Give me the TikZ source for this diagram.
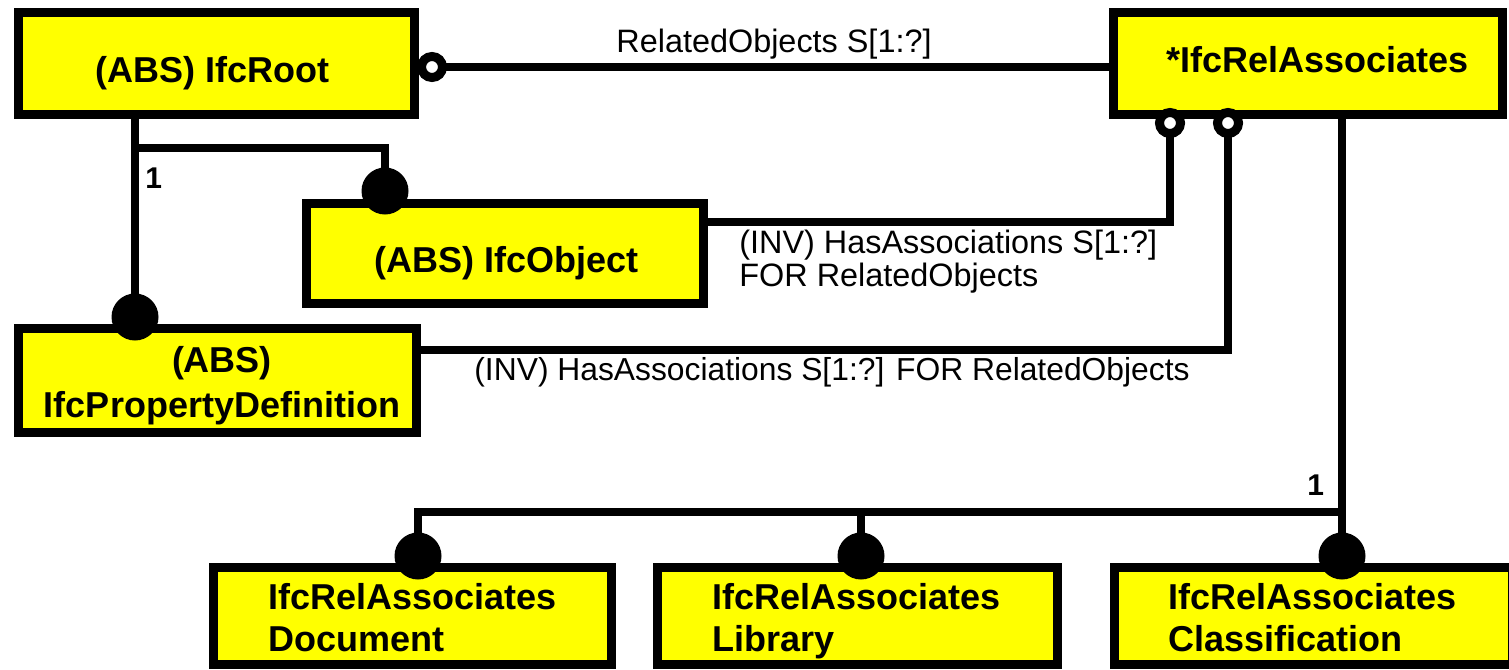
\documentclass[tikz,border=0pt]{standalone}
\usepackage{fontspec}
\setmainfont{Liberation Sans}
\definecolor{boxyellow}{RGB}{255,255,0}
\begin{document}
\begin{tikzpicture}[x=0.5pt,y=-0.5pt,
  box/.style={draw=black, line width=4.5pt, fill=boxyellow, inner sep=0pt},
  title/.style={font=\fontsize{18pt}{21pt}\selectfont\bfseries, inner sep=0pt},
  lbl/.style={font=\fontsize{16.2pt}{16.5pt}\selectfont, inner sep=0pt},
  card/.style={font=\fontsize{15pt}{15pt}\selectfont\bfseries, inner sep=0pt},
  conn/.style={line width=4.25pt},
  ring/.style={draw=black, line width=4.5pt, fill=white},
  blob/.style={fill=black}]
\useasboundingbox (0,0) rectangle (1509,669);

% boxes
\node[box, minimum width=198pt, minimum height=51pt] (root) at (216.5,63.5) {};
\node[box, minimum width=194.5pt, minimum height=51pt] (rel) at (1308,63.5) {};
\node[box, minimum width=198.5pt, minimum height=50pt] (obj) at (505,253.5) {};
\node[box, minimum width=199pt, minimum height=52pt] (pdef) at (217.5,380.5) {};
\node[box, minimum width=199pt, minimum height=48.25pt] (doc) at (412,615.75) {};
\node[box, minimum width=200pt, minimum height=48.25pt] (lib) at (857.5,615.75) {};
\node[box, minimum width=198.75pt, minimum height=48.25pt] (cls) at (1313.25,615.75) {};

% box texts (multi-line: base anchor is the last line's baseline)
\node[title, anchor=base] (tRoot) at (212.5,82) {(ABS) IfcRoot};
\node[title, anchor=base] (tRel) at (1317.5,72) {*IfcRelAssociates};
\node[title, anchor=base] (tObj) at (507,272.5) {(ABS) IfcObject};
\node[title, anchor=base, align=center, font=\fontsize{18pt}{22.5pt}\selectfont\bfseries] (tPdef) at (222,417) {(ABS)\\IfcPropertyDefinition};
\node[title, anchor=base west, align=left] (tDoc) at (268,651) {IfcRelAssociates\\Document};
\node[title, anchor=base west, align=left] (tLib) at (712,651) {IfcRelAssociates\\Library};
\node[title, anchor=base west, align=left] (tCls) at (1168,651) {IfcRelAssociates\\Classification};

% anchor points
\coordinate (ocA) at (432,67);
\coordinate (ocB) at (1170,123);
\coordinate (ocC) at (1228,123);
\coordinate (fcObj) at (385,191);
\coordinate (fcPd) at (135,317);
\coordinate (fcDoc) at (418,556);
\coordinate (fcLib) at (861,556);
\coordinate (fcCls) at (1342,556);
\coordinate (jRoot) at (135,148);
\coordinate (jBot) at (1342,512);
\coordinate (hObj) at (0,222);
\coordinate (hPd) at (0,350);

% connectors
\draw[conn] (ocA) -- (ocA -| rel.west);
\draw[conn] (obj.east |- hObj) -| (ocB);
\draw[conn] (pdef.east |- hPd) -| (ocC);
\draw[conn] (fcPd |- root.south) -- (fcPd);
\draw[conn] (jRoot) -| (fcObj);
\draw[conn] (fcCls |- rel.south) -- (fcCls);
\draw[conn] (jBot) -| (fcDoc);
\draw[conn] (fcLib |- jBot) -- (fcLib);

% end symbols
\draw[ring] (ocA) circle (5.25pt);
\draw[ring] (ocB) circle (5.25pt);
\draw[ring] (ocC) circle (5.25pt);
\fill[blob] (fcObj) circle (11.75pt);
\fill[blob] (fcPd) circle (11.75pt);
\fill[blob] (fcDoc) circle (11.75pt);
\fill[blob] (fcLib) circle (11.75pt);
\fill[blob] (fcCls) circle (11.75pt);

% labels
\node[lbl, anchor=base] (lRelObj) at (774,52) {RelatedObjects S[1:?]};
\node[lbl, anchor=base west, align=left] (lInvObj) at (739,286) {(INV) HasAssociations S[1:?]\\FOR RelatedObjects};
\node[lbl, anchor=base west, font=\fontsize{15.9pt}{16.5pt}\selectfont] (lInvPd) at (474,380) {(INV) HasAssociations S[1:?] FOR RelatedObjects};
\node[card, anchor=base west] (c1) at (145,188) {1};
\node[card, anchor=base west] (c2) at (1307,495) {1};
\end{tikzpicture}
\end{document}
